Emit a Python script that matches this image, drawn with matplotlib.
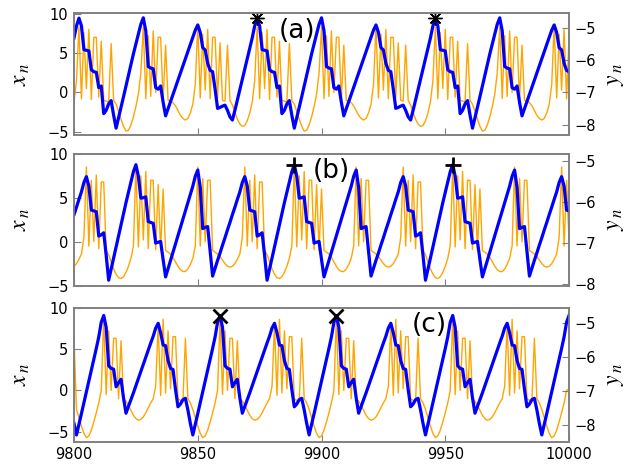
import numpy as np
import matplotlib
matplotlib.use('Agg')
import matplotlib.pyplot as plt

plt.rcParams['font.family'] = 'DejaVu Sans'
plt.rcParams['mathtext.fontset'] = 'stix'

# x_n : fast variable (left axis), y_n : slow variable (right axis)
# each orbit is a repeating sequence of bursts, one list per burst,
# starting at the maximum of y_n

# orbit (a): bursts of 26, 22 and 24 iterates
xa1 = [8.3, -0.8, 7.6, 0.5, 8.0, -0.9, 7.0, 7.0, -0.6, 6.5, -1.0, -1.1, -1.2, 6.2, -1.0, -1.5, -2.4, -3.4, -4.3, -4.9, -4.8, -4.1, -3.1, -1.8, -0.2, 2.5]
ya1 = [-4.71, -4.95, -5.68, -5.70, -5.72, -6.30, -6.36, -6.38, -6.85, -6.80, -7.65, -7.55, -7.35, -7.25, -7.70, -8.10, -7.78, -7.46, -7.13, -6.80, -6.47, -6.14, -5.81, -5.50, -5.20, -4.90]
xa2 = [8.3, -0.8, 7.2, -0.5, 7.8, 0.0, 7.0, 7.0, -1.0, 6.0, -1.0, -1.1, -1.3, -1.7, -2.3, -2.9, -3.3, -3.5, -3.3, -2.6, -1.5, 1.0]
ya2 = [-4.70, -5.10, -6.20, -6.25, -6.27, -6.85, -6.90, -6.80, -7.30, -7.72, -7.50, -7.28, -7.06, -6.84, -6.62, -6.40, -6.18, -5.96, -5.74, -5.52, -5.30, -5.08]
xa3 = [8.5, -0.7, 7.4, 0.3, 8.0, -0.8, 7.0, 7.0, -0.7, 6.3, -1.0, -1.1, 6.0, -1.0, -1.6, -2.5, -3.4, -4.0, -4.3, -4.2, -3.6, -2.6, -1.2, 1.5]
ya3 = [-4.92, -5.15, -5.62, -5.69, -6.10, -6.32, -6.36, -6.90, -7.49, -7.46, -7.42, -7.39, -7.55, -7.75, -7.85, -7.55, -7.23, -6.91, -6.59, -6.27, -5.95, -5.63, -5.32, -4.95]

# orbit (b): bursts of 20, 25 and 19 iterates
xb1 = [8.5, -0.5, 7.0, 0.0, 7.6, -0.8, 6.8, 6.8, -1.0, -1.5, -2.3, -3.1, -3.7, -4.1, -4.2, -4.0, -3.5, -2.8, -1.9, -0.5]
yb1 = [-5.39, -5.62, -6.20, -6.22, -6.24, -6.83, -6.80, -6.75, -7.30, -7.90, -7.63, -7.36, -7.09, -6.82, -6.55, -6.28, -6.02, -5.77, -5.53, -5.27]
xb2 = [8.6, -0.6, 7.5, 0.2, 8.0, -0.8, 7.0, 7.0, -0.9, 6.5, -1.0, 6.0, -1.0, -1.2, -1.4, -1.8, -2.3, -2.8, -3.2, -3.4, -3.4, -3.1, -2.6, -1.9, -0.5]
yb2 = [-5.10, -5.38, -5.91, -5.90, -5.88, -6.48, -6.50, -6.52, -7.00, -6.98, -6.96, -7.40, -7.82, -7.62, -7.42, -7.22, -7.02, -6.82, -6.62, -6.42, -6.22, -6.02, -5.82, -5.62, -5.38]
xb3 = [8.5, -0.5, 7.2, 0.0, 7.0, 7.0, -1.0, -1.2, -1.4, -1.7, -2.1, -2.5, -2.8, -2.9, -2.8, -2.5, -2.0, -1.4, 0.5]
yb3 = [-5.23, -5.65, -6.65, -6.62, -6.60, -7.20, -7.80, -7.61, -7.42, -7.24, -7.05, -6.87, -6.68, -6.50, -6.31, -6.13, -5.94, -5.76, -5.53]

# orbit (c): bursts of 22 and 25 iterates
xc1 = [8.8, -0.5, 7.2, 0.0, 6.3, 6.3, -1.0, 6.0, -1.0, -1.3, -1.8, -2.4, -3.0, -3.4, -3.6, -3.5, -3.2, -2.7, -2.1, -1.5, -1.0, 0.5]
yc1 = [-4.77, -5.12, -6.25, -6.33, -6.35, -6.87, -6.75, -6.65, -7.20, -7.65, -7.45, -7.25, -7.05, -6.84, -6.63, -6.42, -6.21, -6.00, -5.79, -5.58, -5.38, -5.14]
xc2 = [8.0, -0.6, 8.6, -0.3, 7.2, 0.2, 6.5, 6.5, -1.0, -1.2, -1.3, 6.3, -1.0, -1.5, -2.3, -3.3, -4.3, -5.2, -5.7, -5.5, -4.8, -3.8, -2.7, -1.5, 0.0]
yc2 = [-5.00, -5.28, -5.64, -5.66, -6.10, -6.33, -6.36, -6.95, -7.46, -7.38, -7.25, -7.21, -7.55, -7.95, -8.29, -7.98, -7.66, -7.34, -7.02, -6.70, -6.38, -6.06, -5.74, -5.40, -4.97]

# n = 9800 ... 10000
xa = xa3[-2:] + (xa1 + xa2 + xa3) * 2 + xa1 + xa2 + xa3[:7]
ya = ya3[-2:] + (ya1 + ya2 + ya3) * 2 + ya1 + ya2 + ya3[:7]
xb = xb3[-5:] + (xb1 + xb2 + xb3) * 3 + xb1[:4]
yb = yb3[-5:] + (yb1 + yb2 + yb3) * 3 + yb1[:4]
xc = [6.3] + xc2[-11:] + (xc1 + xc2) * 4 + [0.2]
yc = yc2[-12:] + (yc1 + yc2) * 4 + yc1[:1]

# iterations where the orbit returns (marked on y_n)
marks_a = [9874, 9946]
marks_b = [9889, 9953]
marks_c = [9859, 9906]

panels = [
    # x, y, marks, marker, size, width, tag, tag position, left ylim, right ylim, box
    (xa, ya, marks_a, (8, 2, 0), 10, 1.0, '(a)', (0.470, 0.934), (-5.4, 10.05), (-8.31, -4.56), [0.1173, 0.7103, 0.7845, 0.2612]),
    (xb, yb, marks_b, '+', 11, 2.0, '(b)', (0.525, 0.634), (-5.05, 10.0), (-8.04, -4.84), [0.1173, 0.3863, 0.7845, 0.2833]),
    (xc, yc, marks_c, 'x', 10, 2.0, '(c)', (0.681, 0.302), (-6.2, 10.0), (-8.49, -4.54), [0.1173, 0.0521, 0.7845, 0.2876]),
]

fig = plt.figure(figsize=(6.31, 4.66), dpi=100)
frame = '#808080'

for i, (x, y, marks, mk, ms, mew, tag, tagpos, ylx, yly, box) in enumerate(panels):
    n = np.arange(9800, 9800 + len(x))
    ax = fig.add_axes(box)
    ax.plot(n, x, color='orange', lw=1.0)
    ax.set_xlim(9800, 10000)
    ax.set_ylim(*ylx)
    ax.set_yticks([-5, 0, 5, 10])
    ax.set_ylabel(r'$x_{\,n}$', fontsize=17)
    ax.yaxis.set_label_coords(-0.085, 0.5)

    ax2 = ax.twinx()
    ny = np.arange(9800, 9800 + len(y))
    ax2.plot(ny, y, color='#0000ff', lw=2.3, solid_joinstyle='round')
    yy = np.array(y)
    idx = [m - 9800 for m in marks]
    ax2.plot(ny[idx], yy[idx], ls='none', marker=mk, color='k', ms=ms, mew=mew)
    ax2.set_ylim(*yly)
    ax2.set_yticks([-5, -6, -7, -8])
    ax2.set_ylabel(r'$y_{\,n}$', fontsize=17)
    ax2.yaxis.set_label_coords(1.067, 0.5)

    ax.set_xticks([9800, 9850, 9900, 9950, 10000])
    if i < 2:
        ax.tick_params(axis='x', labelbottom=False)
    for a in (ax, ax2):
        a.tick_params(direction='in', length=5, color=frame, labelsize=10.5, pad=4)
        for s in a.spines.values():
            s.set_color(frame)
            s.set_linewidth(1.2)
    ax.tick_params(axis='x', top=False)

    fig.text(tagpos[0], tagpos[1], tag, fontsize=19, ha='center', va='center')

fig.savefig('out.png', dpi=100)
